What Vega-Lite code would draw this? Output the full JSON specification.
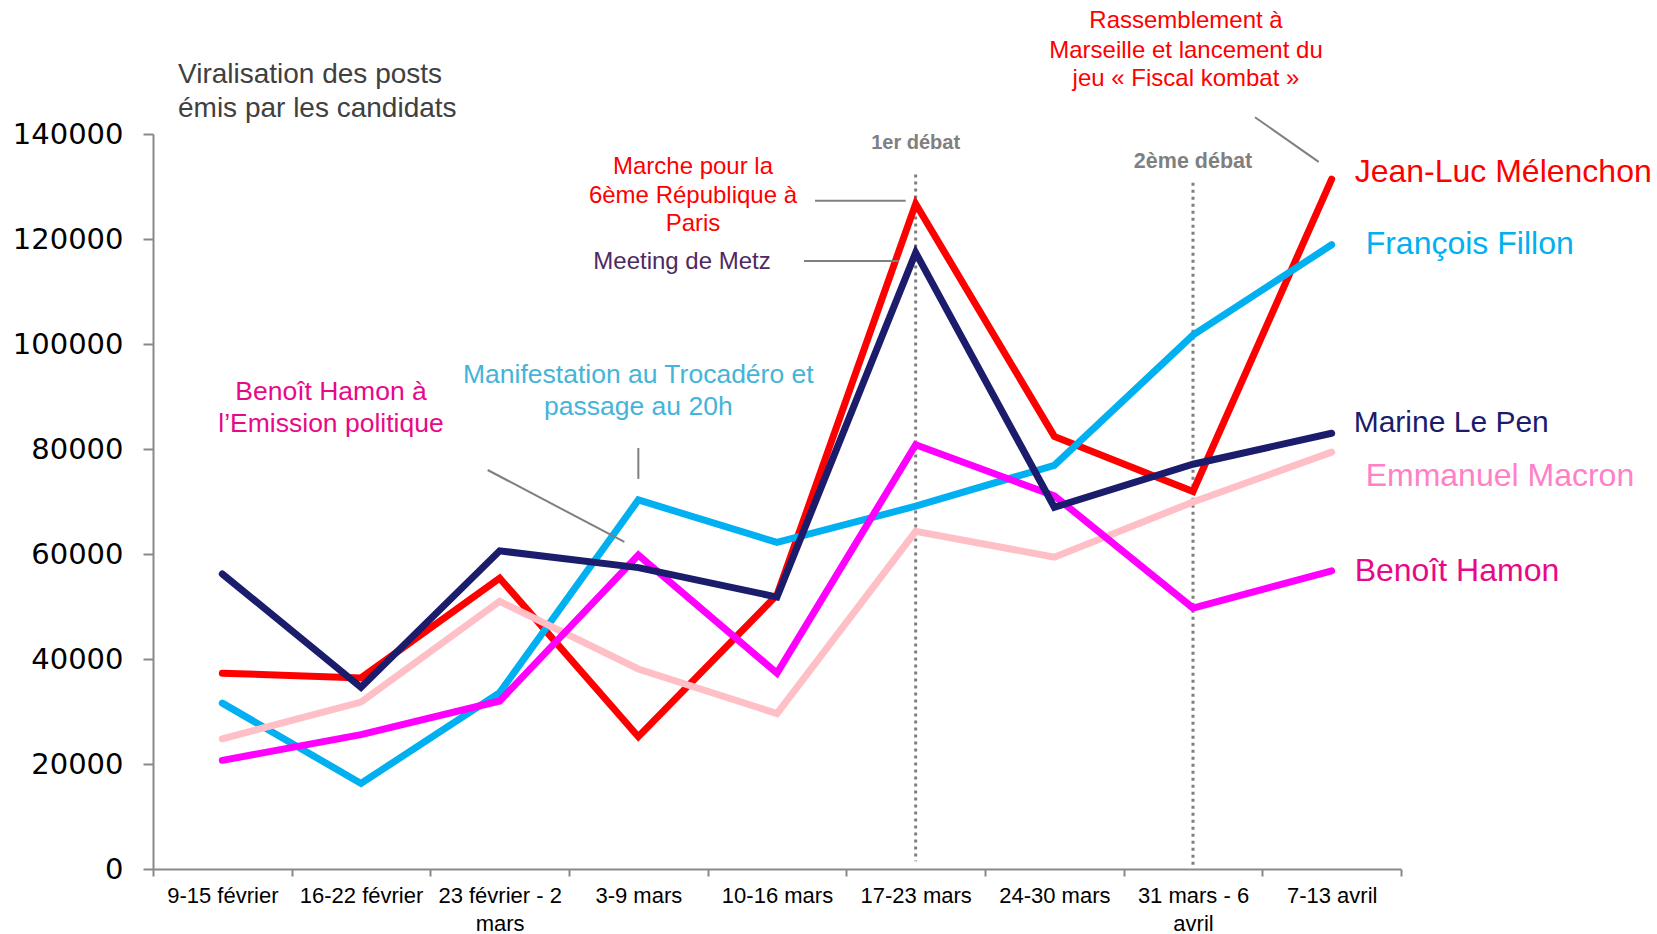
{
  "$schema": "https://vega.github.io/schema/vega-lite/v6.json",
  "width": 1248,
  "height": 735,
  "autosize": "none",
  "padding": {"left": 153, "top": 134, "right": 256, "bottom": 65},
  "background": "#ffffff",
  "config": {"view": {"stroke": null}, "text": {"font": "Liberation Sans"}},
  "title": {
    "text": ["Viralisation des posts", "émis par les candidats"],
    "anchor": "start",
    "frame": "group",
    "dx": 25,
    "dy": 114,
    "offset": 0,
    "fontSize": 28,
    "lineHeight": 34,
    "font": "Liberation Sans",
    "fontWeight": "normal",
    "color": "#404040"
  },
  "data": {
    "values": [
      {"week": "9-15 février", "candidate": "Jean-Luc Mélenchon", "val": 37300},
      {"week": "16-22 février", "candidate": "Jean-Luc Mélenchon", "val": 36400},
      {"week": "23 février - 2 mars", "candidate": "Jean-Luc Mélenchon", "val": 55400},
      {"week": "3-9 mars", "candidate": "Jean-Luc Mélenchon", "val": 25200},
      {"week": "10-16 mars", "candidate": "Jean-Luc Mélenchon", "val": 52200},
      {"week": "17-23 mars", "candidate": "Jean-Luc Mélenchon", "val": 126700},
      {"week": "24-30 mars", "candidate": "Jean-Luc Mélenchon", "val": 82400},
      {"week": "31 mars - 6 avril", "candidate": "Jean-Luc Mélenchon", "val": 71900},
      {"week": "7-13 avril", "candidate": "Jean-Luc Mélenchon", "val": 131400},
      {"week": "9-15 février", "candidate": "François Fillon", "val": 31600},
      {"week": "16-22 février", "candidate": "François Fillon", "val": 16300},
      {"week": "23 février - 2 mars", "candidate": "François Fillon", "val": 33600},
      {"week": "3-9 mars", "candidate": "François Fillon", "val": 70300},
      {"week": "10-16 mars", "candidate": "François Fillon", "val": 62200},
      {"week": "17-23 mars", "candidate": "François Fillon", "val": 69100},
      {"week": "24-30 mars", "candidate": "François Fillon", "val": 76900},
      {"week": "31 mars - 6 avril", "candidate": "François Fillon", "val": 101700},
      {"week": "7-13 avril", "candidate": "François Fillon", "val": 118900},
      {"week": "9-15 février", "candidate": "Emmanuel Macron", "val": 24800},
      {"week": "16-22 février", "candidate": "Emmanuel Macron", "val": 31800},
      {"week": "23 février - 2 mars", "candidate": "Emmanuel Macron", "val": 51000},
      {"week": "3-9 mars", "candidate": "Emmanuel Macron", "val": 38100},
      {"week": "10-16 mars", "candidate": "Emmanuel Macron", "val": 29600},
      {"week": "17-23 mars", "candidate": "Emmanuel Macron", "val": 64300},
      {"week": "24-30 mars", "candidate": "Emmanuel Macron", "val": 59400},
      {"week": "31 mars - 6 avril", "candidate": "Emmanuel Macron", "val": 69900},
      {"week": "7-13 avril", "candidate": "Emmanuel Macron", "val": 79400},
      {"week": "9-15 février", "candidate": "Benoît Hamon", "val": 20700},
      {"week": "16-22 février", "candidate": "Benoît Hamon", "val": 25600},
      {"week": "23 février - 2 mars", "candidate": "Benoît Hamon", "val": 32000},
      {"week": "3-9 mars", "candidate": "Benoît Hamon", "val": 59800},
      {"week": "10-16 mars", "candidate": "Benoît Hamon", "val": 37300},
      {"week": "17-23 mars", "candidate": "Benoît Hamon", "val": 80800},
      {"week": "24-30 mars", "candidate": "Benoît Hamon", "val": 71100},
      {"week": "31 mars - 6 avril", "candidate": "Benoît Hamon", "val": 49700},
      {"week": "7-13 avril", "candidate": "Benoît Hamon", "val": 56800},
      {"week": "9-15 février", "candidate": "Marine Le Pen", "val": 56200},
      {"week": "16-22 février", "candidate": "Marine Le Pen", "val": 34600},
      {"week": "23 février - 2 mars", "candidate": "Marine Le Pen", "val": 60600},
      {"week": "3-9 mars", "candidate": "Marine Le Pen", "val": 57400},
      {"week": "10-16 mars", "candidate": "Marine Le Pen", "val": 51800},
      {"week": "17-23 mars", "candidate": "Marine Le Pen", "val": 117400},
      {"week": "24-30 mars", "candidate": "Marine Le Pen", "val": 68900},
      {"week": "31 mars - 6 avril", "candidate": "Marine Le Pen", "val": 77100},
      {"week": "7-13 avril", "candidate": "Marine Le Pen", "val": 83000}
    ]
  },
  "encoding": {
    "x": {
      "field": "week",
      "type": "nominal",
      "sort": null,
      "scale": {
        "type": "band",
        "paddingInner": 0,
        "paddingOuter": 0,
        "domain": ["9-15 février", "16-22 février", "23 février - 2 mars", "3-9 mars", "10-16 mars", "17-23 mars", "24-30 mars", "31 mars - 6 avril", "7-13 avril"]
      },
      "axis": {
        "title": null,
        "tickBand": "extent",
        "labelAngle": 0,
        "grid": false,
        "domainColor": "#898989",
        "domainWidth": 2,
        "tickColor": "#898989",
        "tickWidth": 2,
        "tickSize": 7,
        "labelFont": "Liberation Sans",
        "labelFontSize": 22,
        "labelColor": "#000000",
        "labelPadding": 9,
        "labelLineHeight": 28,
        "labelOverlap": false,
        "labelExpr": "length(datum.label) > 14 ? [substring(datum.label, 0, lastindexof(datum.label, ' ')), substring(datum.label, lastindexof(datum.label, ' ') + 1)] : datum.label"
      }
    },
    "y": {
      "field": "val",
      "type": "quantitative",
      "scale": {"domain": [0, 140000], "nice": false, "zero": true},
      "axis": {
        "title": null,
        "grid": false,
        "values": [0, 20000, 40000, 60000, 80000, 100000, 120000, 140000],
        "format": "d",
        "domainColor": "#898989",
        "domainWidth": 2,
        "tickColor": "#898989",
        "tickWidth": 2,
        "tickSize": 10,
        "labelFont": "DejaVu Sans",
        "labelFontSize": 29,
        "labelColor": "#000000",
        "labelPadding": 20
      }
    }
  },
  "resolve": {"scale": {"color": "independent"}},
  "layer": [
    {
      "data": {"values": [
        {"week": "17-23 mars", "val": 132300, "val2": 1500},
        {"week": "31 mars - 6 avril", "val": 130700, "val2": 300}
      ]},
      "mark": {"type": "rule", "color": "#7F7F7F", "strokeWidth": 3, "strokeDash": [3, 4]},
      "encoding": {"y2": {"field": "val2"}}
    },
    {
      "mark": {"type": "line", "strokeWidth": 7, "strokeCap": "round"},
      "encoding": {
        "color": {
          "field": "candidate",
          "type": "nominal",
          "scale": {
            "domain": ["Jean-Luc Mélenchon", "François Fillon", "Marine Le Pen", "Emmanuel Macron", "Benoît Hamon"],
            "range": ["#FF0000", "#00B0F0", "#1C1C6C", "#FFBFC6", "#FF00FF"]
          },
          "legend": null
        }
      }
    },
    {
      "data": {"values": [{"week": "23 février - 2 mars", "week2": "3-9 mars", "val": 76000, "val2": 62300}]},
      "mark": {"type": "rule", "color": "#7F7F7F", "strokeWidth": 2, "xOffset": -12, "x2Offset": -14},
      "encoding": {"x2": {"field": "week2"}, "y2": {"field": "val2"}}
    },
    {
      "data": {"values": [{"week": "3-9 mars", "val": 80200, "val2": 74300}]},
      "mark": {"type": "rule", "color": "#7F7F7F", "strokeWidth": 2},
      "encoding": {"y2": {"field": "val2"}}
    },
    {
      "data": {"values": [{"week": "10-16 mars", "week2": "17-23 mars", "val": 127300, "val2": 127300}]},
      "mark": {"type": "rule", "color": "#7F7F7F", "strokeWidth": 2, "xOffset": 38, "x2Offset": -10},
      "encoding": {"x2": {"field": "week2"}, "y2": {"field": "val2"}}
    },
    {
      "data": {"values": [{"week": "10-16 mars", "week2": "17-23 mars", "val": 115800, "val2": 115800}]},
      "mark": {"type": "rule", "color": "#7F7F7F", "strokeWidth": 2, "xOffset": 27, "x2Offset": -17},
      "encoding": {"x2": {"field": "week2"}, "y2": {"field": "val2"}}
    },
    {
      "data": {"values": [{"week": "31 mars - 6 avril", "week2": "7-13 avril", "val": 143200, "val2": 134700}]},
      "mark": {"type": "rule", "color": "#7F7F7F", "strokeWidth": 2, "xOffset": 62, "x2Offset": -13},
      "encoding": {"x2": {"field": "week2"}, "y2": {"field": "val2"}}
    },
    {
      "data": {"values": [
        {"week": "16-22 février", "val": 90860, "label": "Benoît Hamon à"},
        {"week": "16-22 février", "val": 84760, "label": "l’Emission politique"}
      ]},
      "mark": {"type": "text", "fontSize": 26.5, "color": "#E8088A", "align": "center", "baseline": "middle", "dx": -30},
      "encoding": {"text": {"field": "label"}}
    },
    {
      "data": {"values": [
        {"week": "3-9 mars", "val": 94100, "label": "Manifestation au Trocadéro et"},
        {"week": "3-9 mars", "val": 88000, "label": "passage au 20h"}
      ]},
      "mark": {"type": "text", "fontSize": 26.5, "color": "#44B4D8", "align": "center", "baseline": "middle"},
      "encoding": {"text": {"field": "label"}}
    },
    {
      "data": {"values": [
        {"week": "10-16 mars", "val": 133700, "label": "Marche pour la"},
        {"week": "10-16 mars", "val": 128100, "label": "6ème République à"},
        {"week": "10-16 mars", "val": 122860, "label": "Paris"}
      ]},
      "mark": {"type": "text", "fontSize": 24, "color": "#FF0000", "align": "center", "baseline": "middle", "dx": -84},
      "encoding": {"text": {"field": "label"}}
    },
    {
      "data": {"values": [{"week": "10-16 mars", "val": 115620, "label": "Meeting de Metz"}]},
      "mark": {"type": "text", "fontSize": 24, "color": "#4E2A62", "align": "center", "baseline": "middle", "dx": -95},
      "encoding": {"text": {"field": "label"}}
    },
    {
      "data": {"values": [{"week": "17-23 mars", "val": 138290, "label": "1er débat"}]},
      "mark": {"type": "text", "fontSize": 20, "fontWeight": "bold", "color": "#808080", "align": "center", "baseline": "middle"},
      "encoding": {"text": {"field": "label"}}
    },
    {
      "data": {"values": [{"week": "31 mars - 6 avril", "val": 134670, "label": "2ème débat"}]},
      "mark": {"type": "text", "fontSize": 21.5, "fontWeight": "bold", "color": "#808080", "align": "center", "baseline": "middle"},
      "encoding": {"text": {"field": "label"}}
    },
    {
      "data": {"values": [
        {"week": "31 mars - 6 avril", "val": 161520, "label": "Rassemblement à"},
        {"week": "31 mars - 6 avril", "val": 155810, "label": "Marseille et lancement du"},
        {"week": "31 mars - 6 avril", "val": 150480, "label": "jeu « Fiscal kombat »"}
      ]},
      "mark": {"type": "text", "fontSize": 24, "color": "#FF0000", "align": "center", "baseline": "middle", "dx": -7},
      "encoding": {"text": {"field": "label"}}
    },
    {
      "data": {"values": [
        {"week": "7-13 avril", "val": 132700, "name": "Jean-Luc Mélenchon"},
        {"week": "7-13 avril", "val": 56820, "name": "Benoît Hamon"}
      ]},
      "mark": {"type": "text", "fontSize": 32, "align": "left", "baseline": "middle", "dx": 23},
      "encoding": {
        "text": {"field": "name"},
        "color": {
          "field": "name",
          "type": "nominal",
          "scale": {
            "domain": ["Jean-Luc Mélenchon", "François Fillon", "Marine Le Pen", "Emmanuel Macron", "Benoît Hamon"],
            "range": ["#FF0000", "#00B0F0", "#1C1C6C", "#FF80C8", "#E8088A"]
          },
          "legend": null
        }
      }
    },
    {
      "data": {"values": [
        {"week": "7-13 avril", "val": 85010, "name": "Marine Le Pen"}
      ]},
      "mark": {"type": "text", "fontSize": 30, "align": "left", "baseline": "middle", "dx": 22},
      "encoding": {
        "text": {"field": "name"},
        "color": {
          "field": "name",
          "type": "nominal",
          "scale": {
            "domain": ["Jean-Luc Mélenchon", "François Fillon", "Marine Le Pen", "Emmanuel Macron", "Benoît Hamon"],
            "range": ["#FF0000", "#00B0F0", "#1C1C6C", "#FF80C8", "#E8088A"]
          },
          "legend": null
        }
      }
    },
    {
      "data": {"values": [
        {"week": "7-13 avril", "val": 119030, "name": "François Fillon"},
        {"week": "7-13 avril", "val": 74930, "name": "Emmanuel Macron"}
      ]},
      "mark": {"type": "text", "fontSize": 32, "align": "left", "baseline": "middle", "dx": 34},
      "encoding": {
        "text": {"field": "name"},
        "color": {
          "field": "name",
          "type": "nominal",
          "scale": {
            "domain": ["Jean-Luc Mélenchon", "François Fillon", "Marine Le Pen", "Emmanuel Macron", "Benoît Hamon"],
            "range": ["#FF0000", "#00B0F0", "#1C1C6C", "#FF80C8", "#E8088A"]
          },
          "legend": null
        }
      }
    }
  ]
}
